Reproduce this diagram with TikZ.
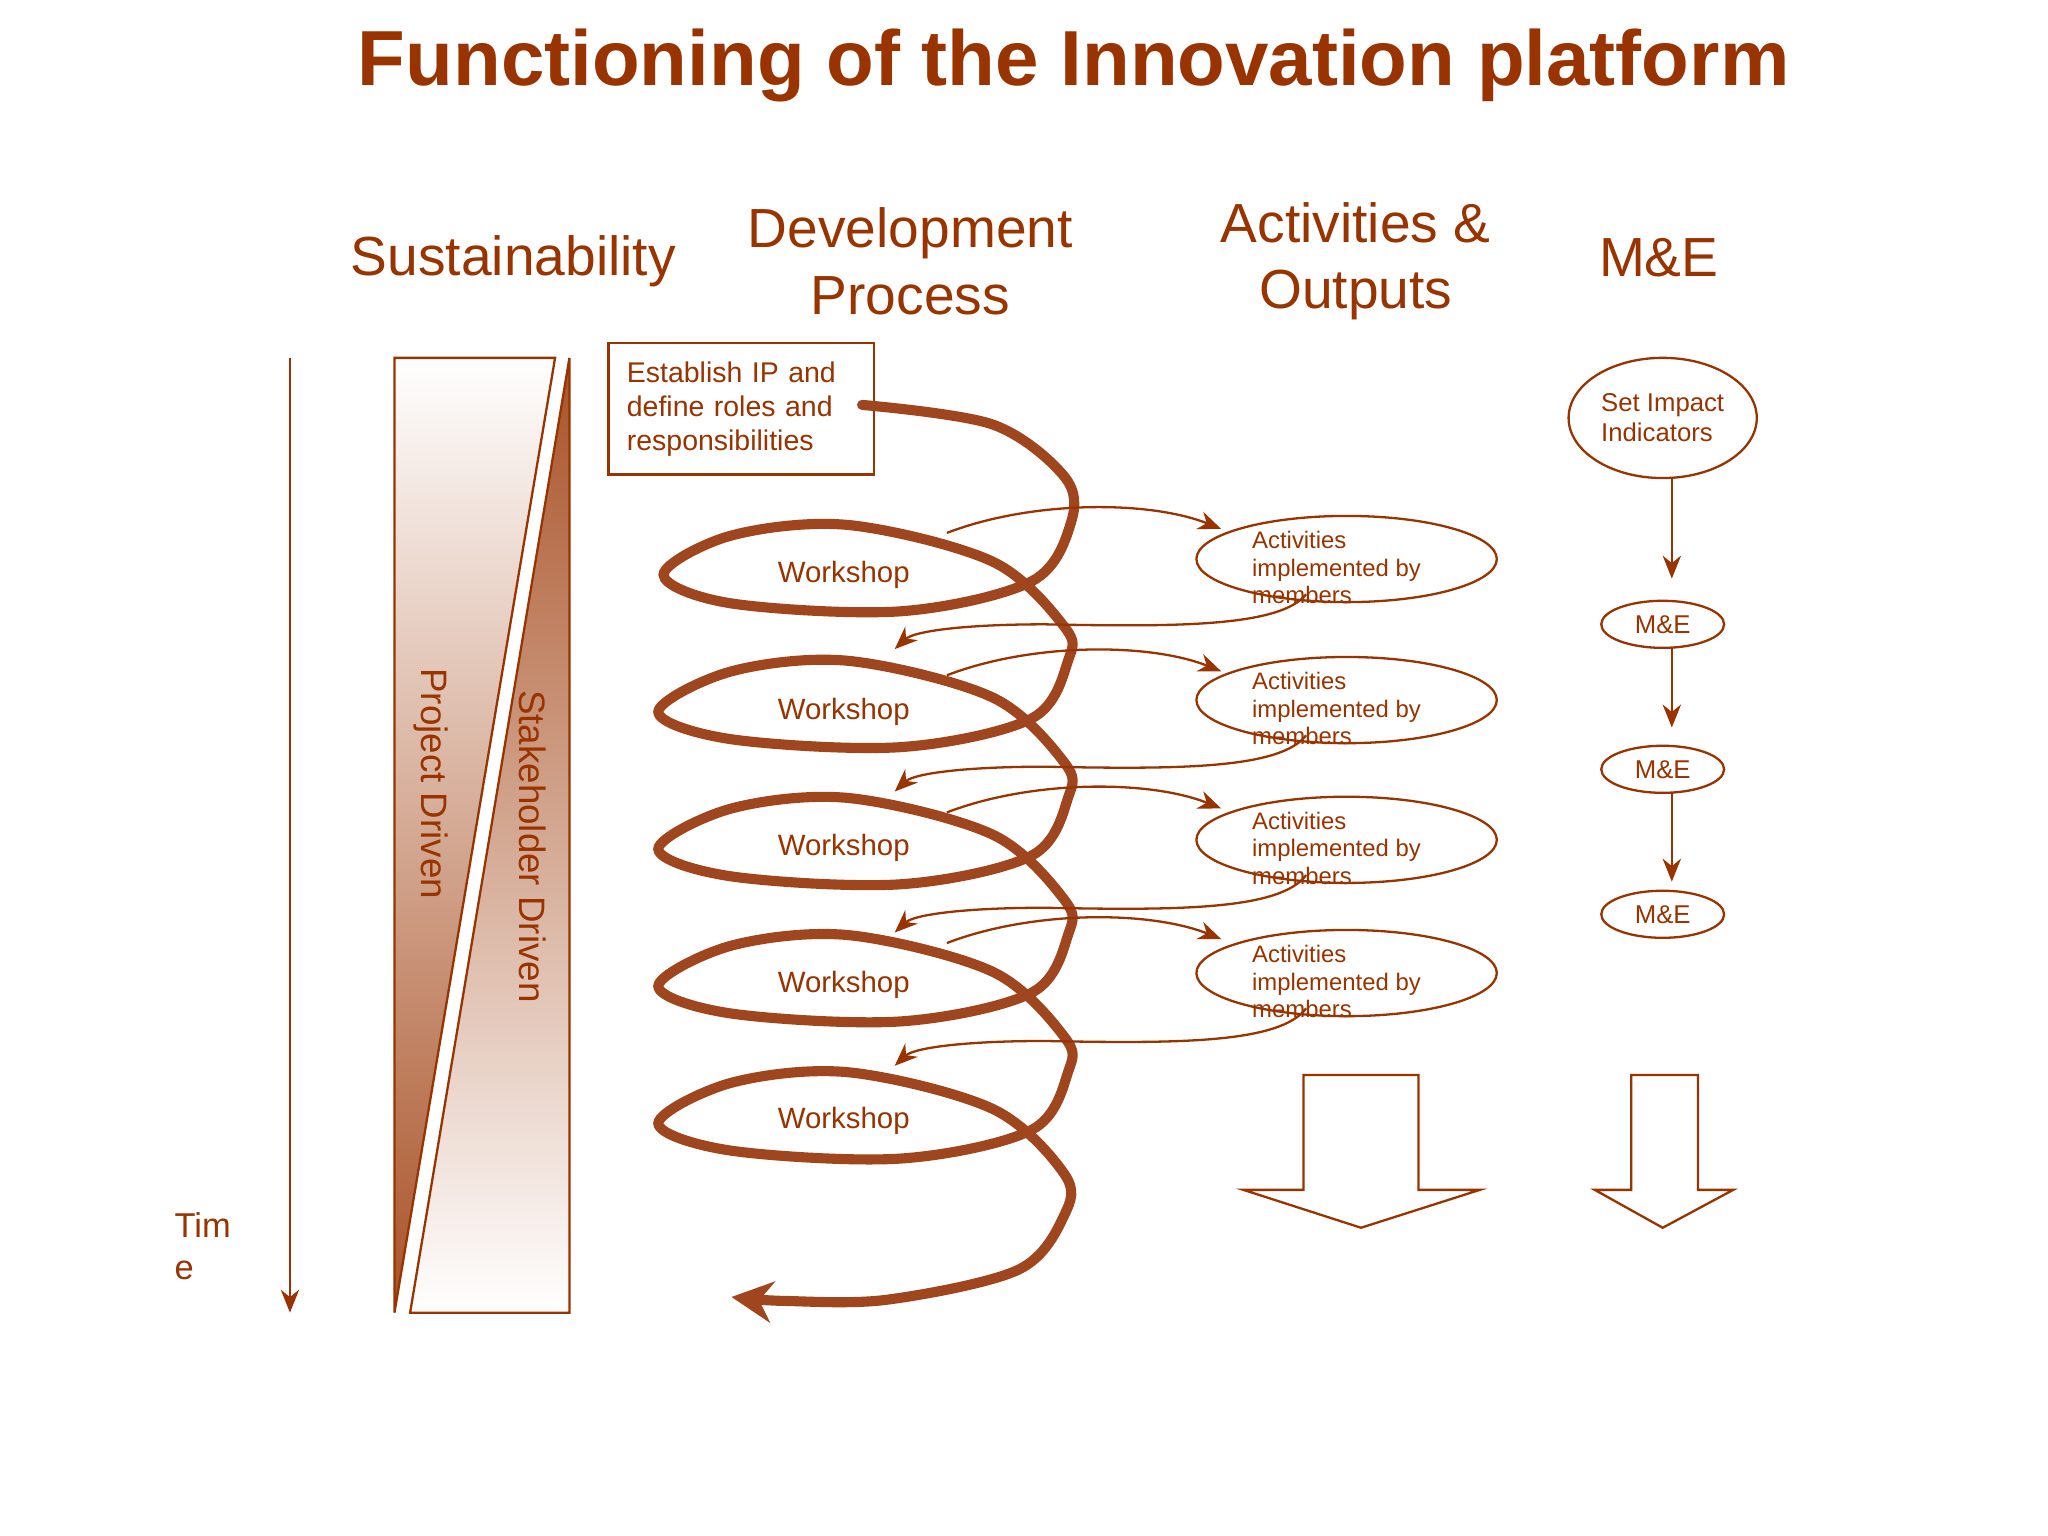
\documentclass[tikz,border=0pt]{standalone}
\usepackage{fontspec}
\setmainfont{Liberation Sans}
\usetikzlibrary{arrows.meta,shapes.geometric}
\definecolor{br}{RGB}{153,51,0}
\definecolor{brd}{RGB}{160,70,30}
\begin{document}
\begin{tikzpicture}[x=0.01cm,y=-0.01cm,
  txt/.style={text=br,inner sep=0},
  thin/.style={draw=br,line width=0.5pt},
  thinarr/.style={draw=br,line width=0.5pt,-{Stealth[length=5pt,width=4pt]}},
  spiral/.style={draw=brd,line width=2.2pt,line cap=round}]
\useasboundingbox (0,0) rectangle (1568,1176);
\fill[white] (0,0) rectangle (1568,1176);
% title
\node[txt,font=\fontsize{17}{20}\selectfont\bfseries] (title) at (822,50) {Functioning of the Innovation platform};
\node[txt,font=\fontsize{12}{14.5}\selectfont] (h1) at (393,200) {Sustainability};
\node[txt,font=\fontsize{12}{14.5}\selectfont,align=center] (h2) at (697,200) {Development\\Process};
\node[txt,font=\fontsize{12}{14.5}\selectfont,align=center] (h3) at (1038,200) {Activities \&\\Outputs};
\node[txt,font=\fontsize{12}{14.5}\selectfont] (h4) at (1270,197) {M\&E};
% time
\coordinate (t0) at (222,274); \coordinate (t1) at (222,1005);
\draw[thinarr] (t0) -- (t1);
\node[txt,anchor=north west,align=left,font=\fontsize{7.5}{9}\selectfont] (time) at (133,928) {Tim\\e};
% triangles
\shade[top color=white,bottom color=br!85] (302,274) -- (425,274) -- (302,1005) -- cycle;
\draw[thin] (302,274) -- (425,274) -- (302,1005) -- cycle;
\shade[top color=br!85,bottom color=white] (436,274) -- (436,1005) -- (314,1005) -- cycle;
\draw[thin] (436,274) -- (436,1005) -- (314,1005) -- cycle;
\node[txt,rotate=-90,font=\fontsize{8}{9}\selectfont] (pd) at (330,600) {Project Driven};
\node[txt,rotate=-90,font=\fontsize{8}{9}\selectfont] (sd) at (408,648) {Stakeholder Driven};
% box
\node[thin,draw,anchor=north west,minimum width=1.91cm,minimum height=0.93cm,align=left,text=br,font=\fontsize{6.2}{7.4}\selectfont,inner sep=4pt,text width=1.75cm] (ip) at (465,262) {Establish IP and define roles and responsibilities};
% spiral
\draw[spiral,-{Stealth[length=9pt,width=9pt]}] plot[smooth,tension=0.55] coordinates {
 (660,310) (760,325) (815,365)
 (820,400) (790,445) (690,468) (560,462) (508,440) (560,410) (650,402) (760,430) (815,480)
 (818,505) (790,550) (690,572) (560,566) (504,545) (560,514) (650,506) (760,534) (815,584)
 (818,610) (790,655) (690,677) (560,671) (504,650) (560,619) (650,611) (760,639) (815,689)
 (818,715) (790,760) (690,782) (560,776) (504,755) (560,724) (650,716) (760,744) (815,794)
 (818,820) (790,865) (690,887) (560,881) (504,860) (560,829) (650,821) (760,849) (815,899)
 (815,930) (780,972) (680,995) (600,996) (560,993)};
% workshops
\foreach \i/\y in {1/440,2/545,3/649,4/754,5/858}{
 \node[txt,font=\fontsize{6.4}{7}\selectfont] (w\i) at (646,\y) {Workshop};
}
% activities
\foreach \i/\y/\a/\r in {1/428/408/478,2/536/517/587,3/643/622/695,4/745/722/797}{
 \draw[thin] (1031,\y) ellipse [x radius=115,y radius=33];
 \node[txt,anchor=north west,align=left,font=\fontsize{5.2}{6}\selectfont] (a\i) at (958,\y-22) {Activities\\implemented by\\members};
 \coordinate (s\i) at (725,\a); \coordinate (e\i) at (935,\a-3);
 \draw[thinarr] (s\i) .. controls (790,\a-25) and (880,\a-25) .. (e\i);
 \coordinate (rs\i) at (1000,\y+27); \coordinate (re\i) at (685,\r+19);
 \draw[thinarr] (rs\i) .. controls (980,\r+2) and (900,\r+2) .. (800,\r) .. controls (740,\r) and (700,\r+5) .. (re\i);
}
% M&E
\node[draw=br,thin,ellipse,minimum width=1.44cm,minimum height=0.92cm,inner sep=0,align=left,text=br,font=\fontsize{5.6}{6.6}\selectfont] (sii) at (1273,320) {Set Impact\\Indicators};
\foreach \i/\y in {1/478,2/589,3/700}{
 \node[draw=br,thin,ellipse,minimum width=0.94cm,minimum height=0.36cm,inner sep=0,text=br,font=\fontsize{5.6}{6.6}\selectfont] (m\i) at (1273,\y) {M\&E};
}
\draw[thinarr] (1280,366) -- (1280,443);
\draw[thinarr] (1280,496) -- (1280,557);
\draw[thinarr] (1280,607) -- (1280,675);
% block arrows
\draw[thin,fill=white] (998,823) -- (1086,823) -- (1086,911) -- (1133,911) -- (1042,940) -- (952,911) -- (998,911) -- cycle;
\draw[thin,fill=white] (1249,823) -- (1300,823) -- (1300,911) -- (1327,911) -- (1273,940) -- (1221,911) -- (1249,911) -- cycle;
\end{tikzpicture}
\end{document}
